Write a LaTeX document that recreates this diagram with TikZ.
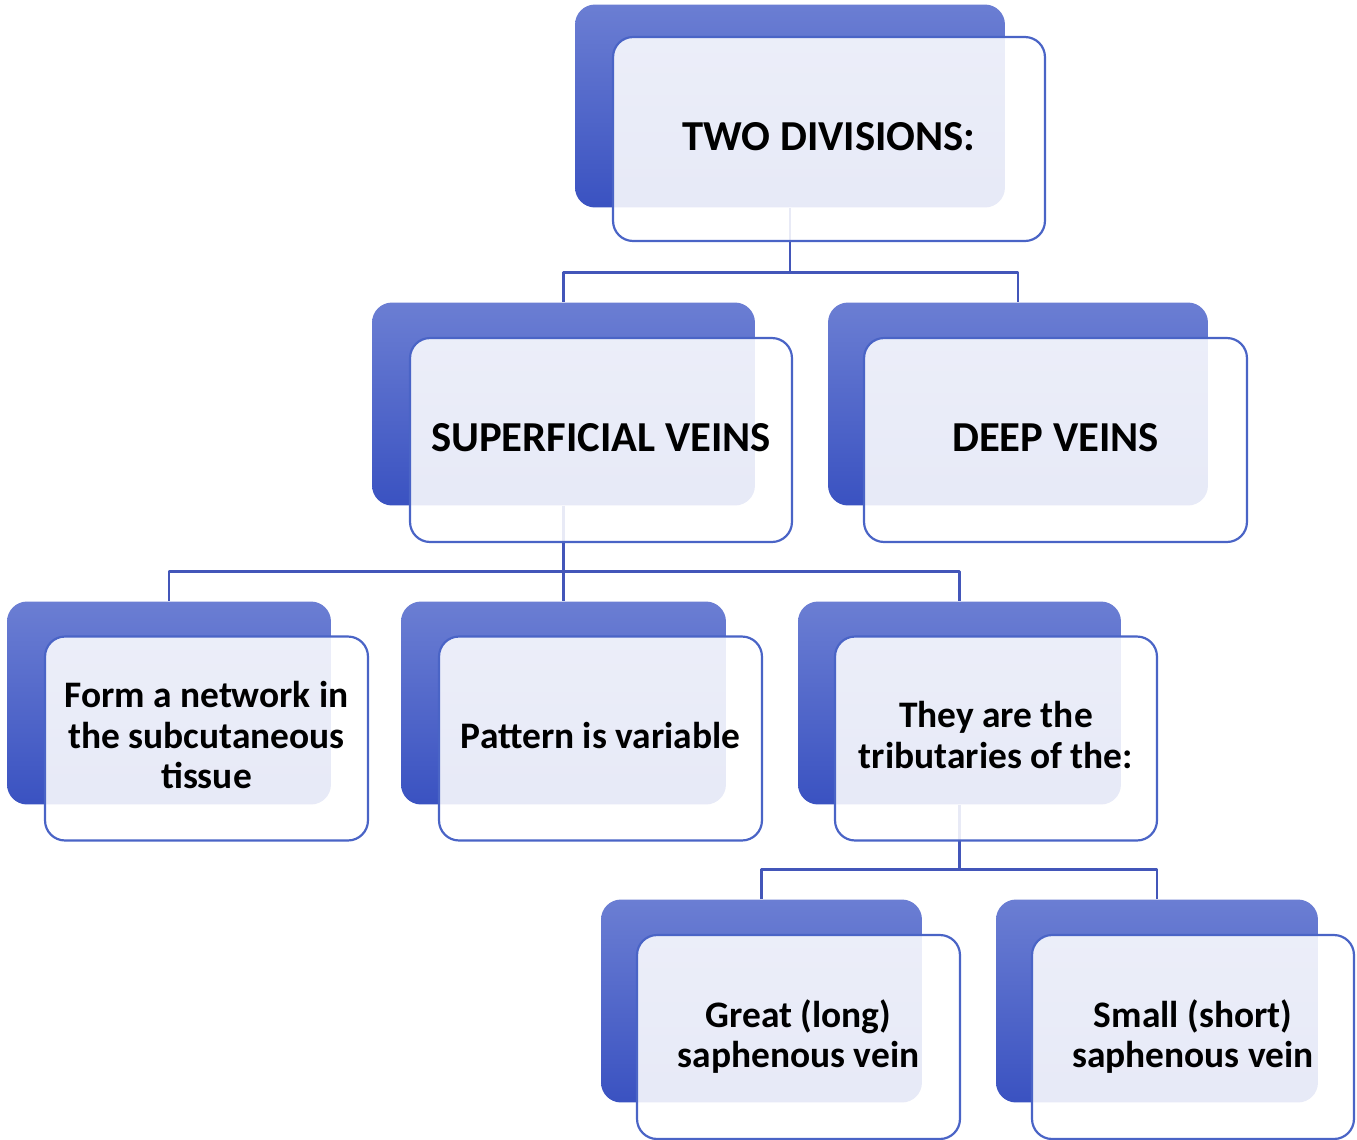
\documentclass[tikz,border=0pt]{standalone}
\usepackage{fontspec}
\setmainfont{Carlito}
\definecolor{backtop}{HTML}{6B7ED3}
\definecolor{backbot}{HTML}{3A52C1}
\definecolor{edgeblue}{HTML}{4A64C6}
\definecolor{linkblue}{HTML}{4356B9}
\tikzset{
	backbox/.style={rounded corners=0.4cm, top color=backtop, bottom color=backbot, minimum height=4.06cm, inner sep=0pt},
	frontbox/.style={rounded corners=0.4cm, draw=edgeblue, line width=1.25pt, fill=white, fill opacity=0.88, text opacity=1, minimum height=4.08cm, inner sep=0pt, align=center, font=\bfseries\fontsize{21.3}{23}\selectfont},
	bigtext/.style={font=\bfseries\fontsize{24.3}{28}\selectfont},
	link/.style={draw=linkblue, line width=1.6pt}
}
\begin{document}
\begin{tikzpicture}[x=0.02cm, y=-0.02cm, line join=round]
		\useasboundingbox (0,0) rectangle (1357,1140);
		% back boxes
		\node[backbox, minimum width=8.6cm] (two-b) at (790,106) {};
		\node[backbox, minimum width=7.66cm] (sup-b) at (563.5,404) {};
		\node[backbox, minimum width=7.6cm] (deep-b) at (1018,404) {};
		\node[backbox, minimum width=6.48cm] (net-b) at (169,703) {};
		\node[backbox, minimum width=6.5cm] (pat-b) at (563.5,703) {};
		\node[backbox, minimum width=6.46cm] (trib-b) at (959.5,703) {};
		\node[backbox, minimum width=6.42cm] (gsv-b) at (761.5,1001) {};
		\node[backbox, minimum width=6.44cm] (ssv-b) at (1157,1001) {};
		% connectors
		\draw[link] (two-b.south) -- ++(0,65) -| (sup-b.north);
		\draw[link] (two-b.south) -- ++(0,65) -| (deep-b.north);
		\draw[link] (sup-b.south) -- ++(0,66) -| (net-b.north);
		\draw[link] (sup-b.south) -- ++(0,66) -| (pat-b.north);
		\draw[link] (sup-b.south) -- ++(0,66) -| (trib-b.north);
		\draw[link] (trib-b.south) -- ++(0,65) -| (gsv-b.north);
		\draw[link] (trib-b.south) -- ++(0,65) -| (ssv-b.north);
		% front boxes
		\node[frontbox, bigtext, minimum width=8.64cm] (two) at ([shift={(39,33)}]two-b) {TWO DIVISIONS:\\[-25pt]};
		\node[frontbox, bigtext, minimum width=7.64cm] (sup) at ([shift={(37.5,36)}]sup-b) {SUPERFICIAL VEINS\\[-25pt]};
		\node[frontbox, bigtext, minimum width=7.66cm] (deep) at ([shift={(37.5,36)}]deep-b) {DEEP VEINS\\[-25pt]};
		\node[frontbox, minimum width=6.46cm] (net) at ([shift={(37.5,35.5)}]net-b) {Form a network in\\the subcutaneous\\tissue\\[-19pt]};
		\node[frontbox, minimum width=6.46cm] (pat) at ([shift={(37,35.5)}]pat-b) {Pattern is variable\\[-19pt]};
		\node[frontbox, minimum width=6.44cm] (trib) at ([shift={(36.5,35.5)}]trib-b) {They are the\\tributaries of the:\\[-19pt]};
		\node[frontbox, minimum width=6.46cm] (gsv) at ([shift={(37,36)}]gsv-b) {Great (long)\\saphenous vein\\[-19pt]};
		\node[frontbox, minimum width=6.44cm] (ssv) at ([shift={(36,36)}]ssv-b) {Small (short)\\saphenous vein\\[-19pt]};
\end{tikzpicture}
\end{document}
